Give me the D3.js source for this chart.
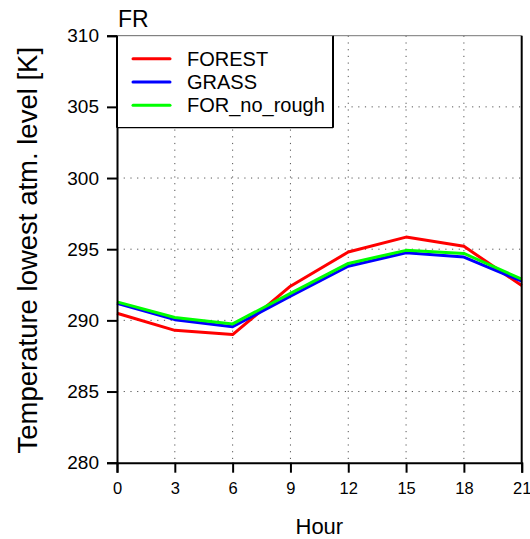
<!DOCTYPE html>
<html>
<head>
<meta charset="utf-8">
<script src="https://cdn.jsdelivr.net/npm/d3@7"></script>
<style>
  html, body { margin: 0; padding: 0; background: #fff; }
  svg { display: block; font-family: "Liberation Sans", Arial, Helvetica, sans-serif; }
</style>
</head>
<body>
<svg id="chart" width="530" height="539"></svg>
<script>
// Diurnal cycle of lowest-level air temperature, site FR
const hours = [0, 3, 6, 9, 12, 15, 18, 21];
const forest = [290.5, 289.3, 289.0, 292.4, 294.8, 295.85, 295.2, 292.45];
const grass = [291.2, 290.05, 289.55, 291.7, 293.8, 294.75, 294.45, 292.75];
const forNoRough = [291.3, 290.2, 289.75, 291.9, 294.0, 294.92, 294.7, 292.9];
const seriesNames = ["FOREST", "GRASS", "FOR_no_rough"];
const seriesColors = ["#ff0000", "#0000ff", "#00ff00"];
const xTicks = [0, 3, 6, 9, 12, 15, 18, 21];
const yTicks = [280, 285, 290, 295, 300, 305, 310];

const series = [forest, grass, forNoRough];

const svg = d3.select("#chart");
const pLeft = 117, pRight = 521.7, pTop = 35.7, pBottom = 462.7;

const x = d3.scaleLinear().domain([0, 21]).range([pLeft, pRight]);
const y = d3.scaleLinear().domain([280, 310]).range([pBottom, pTop]);

// dotted grid
const grid = svg.append("g").attr("stroke", "#555").attr("stroke-width", 1)
  .attr("stroke-dasharray", "1.2,5.5");
grid.selectAll("line.v").data(xTicks.slice(1, -1)).join("line")
  .attr("x1", d => x(d)).attr("x2", d => x(d))
  .attr("y1", pTop).attr("y2", pBottom);
grid.selectAll("line.h").data(yTicks.slice(1, -1)).join("line")
  .attr("x1", pLeft).attr("x2", pRight)
  .attr("y1", d => y(d)).attr("y2", d => y(d));

// top frame edge
svg.append("line").attr("x1", pLeft).attr("x2", pRight)
  .attr("y1", pTop).attr("y2", pTop)
  .attr("stroke", "#777").attr("stroke-width", 1);

// data lines
const line = d3.line().x((d, i) => x(hours[i])).y(d => y(d));
series.forEach((s, k) => {
  svg.append("path").datum(s)
    .attr("d", line)
    .attr("fill", "none")
    .attr("stroke", seriesColors[k])
    .attr("stroke-width", 3)
    .attr("stroke-linejoin", "round");
});

// axes
const xAxis = d3.axisBottom(x).tickValues(xTicks).tickSize(10).tickPadding(10);
const gx = svg.append("g").attr("transform", `translate(0,${pBottom})`).call(xAxis);
gx.select(".domain").attr("stroke-width", 2);
gx.selectAll(".tick line").attr("stroke-width", 2);
gx.selectAll(".tick text").attr("font-size", 16.5).attr("font-family", "Liberation Sans, Arial, sans-serif").attr("fill", "#000");

const yAxis = d3.axisLeft(y).tickValues(yTicks).tickSize(10).tickPadding(8);
const gy = svg.append("g").attr("transform", `translate(${pLeft},0)`).call(yAxis);
gy.select(".domain").attr("stroke-width", 2);
gy.selectAll(".tick line").attr("stroke-width", 2);
gy.selectAll(".tick text").attr("font-size", 19).attr("font-family", "Liberation Sans, Arial, sans-serif").attr("fill", "#000");

// right frame edge
svg.append("line").attr("x1", pRight).attr("x2", pRight)
  .attr("y1", pTop).attr("y2", pBottom)
  .attr("stroke", "#000").attr("stroke-width", 2);

// legend
const lg = svg.append("g");
const lgRight = 333, lgBottom = 127.7;
lg.append("rect").attr("x", pLeft).attr("y", pTop)
  .attr("width", lgRight - pLeft).attr("height", lgBottom - pTop)
  .attr("fill", "#fff").attr("stroke", "none");
lg.append("line").attr("x1", pLeft).attr("x2", lgRight).attr("y1", lgBottom).attr("y2", lgBottom)
  .attr("stroke", "#000").attr("stroke-width", 1.2);
lg.append("line").attr("x1", lgRight).attr("x2", lgRight).attr("y1", pTop).attr("y2", lgBottom)
  .attr("stroke", "#000").attr("stroke-width", 2);
lg.append("line").attr("x1", pLeft).attr("x2", lgRight).attr("y1", pTop).attr("y2", pTop)
  .attr("stroke", "#777").attr("stroke-width", 1);
lg.append("line").attr("x1", pLeft).attr("x2", pLeft).attr("y1", pTop).attr("y2", lgBottom)
  .attr("stroke", "#000").attr("stroke-width", 2);
seriesNames.forEach((name, k) => {
  const yy = 58.7 + k * 23.3;
  lg.append("line").attr("x1", 133).attr("x2", 170).attr("y1", yy).attr("y2", yy)
    .attr("stroke", seriesColors[k]).attr("stroke-width", 3).attr("stroke-linecap", "round");
  lg.append("text").attr("x", 187).attr("y", yy + 7)
    .attr("font-size", 20).attr("fill", "#000").text(name);
});

// titles
svg.append("text").attr("x", 118).attr("y", 27).attr("font-size", 23).attr("fill", "#000").text("FR");
svg.append("text").attr("x", (pLeft + pRight) / 2).attr("y", 534)
  .attr("text-anchor", "middle").attr("font-size", 22).attr("fill", "#000").text("Hour");
svg.append("text")
  .attr("transform", `translate(37,${(pTop + pBottom) / 2 + 1}) rotate(-90)`)
  .attr("text-anchor", "middle").attr("font-size", 27.5).attr("fill", "#000")
  .text("Temperature lowest atm. level [K]");
</script>
</body>
</html>
